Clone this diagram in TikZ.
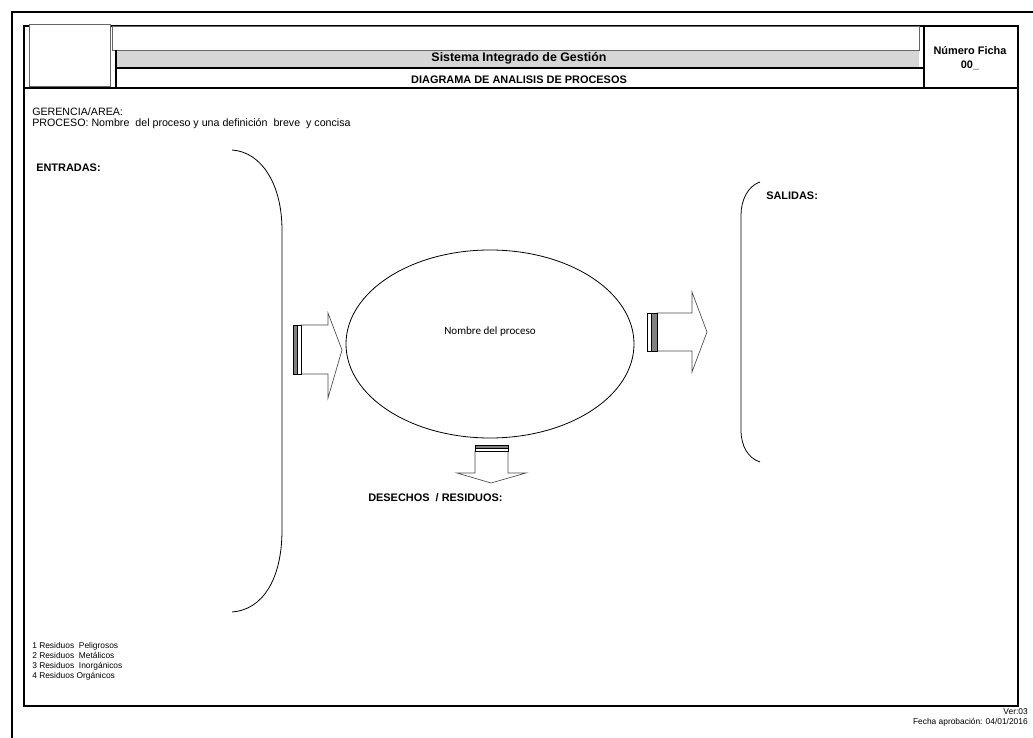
\documentclass[tikz,border=0pt]{standalone}
\usepackage{fontspec}
\setmainfont{Liberation Sans}
\newfontfamily\calibrifont{Carlito}
\usetikzlibrary{shapes.geometric}
\begin{document}
\begin{tikzpicture}[x=0.75pt,y=-0.75pt,
  frame/.style={draw=black,line width=1.1pt},
  thinbox/.style={draw=black!60,line width=0.6pt},
  bracket/.style={draw=black,line width=0.6pt},
  fat/.style={draw=black!70,line width=0.5pt,fill=white},
  bar/.style={draw=black,line width=0.4pt,fill=black!50},
  barlight/.style={draw=black,line width=0.4pt,fill=white},
  txt/.style={inner sep=0pt,font=\fontsize{8}{9}\selectfont},
  btxt/.style={inner sep=0pt,font=\fontsize{8.2}{9}\selectfont\bfseries},
  small/.style={inner sep=0pt,font=\fontsize{6.3}{7}\selectfont}]
\useasboundingbox (0,0) rectangle (1033,738);
\clip (0,0) rectangle (1033,738);
\fill[white] (0,0) rectangle (1033,738);

% outer sheet border, running off the page right and bottom
\draw[frame] (12,745) -- (12,12) -- (1045,12);
% inner frame
\draw[frame] (24,26) rectangle (1018,706);

% header
\fill[black!16] (116,50) rectangle (919,68);
\draw[thinbox] (112,50) -- (112,26) -- (919,26) -- (919,50) -- (112,50);
\draw[frame] (116,50) -- (116,88);
\draw[frame] (116,68) -- (924,68);
\draw[frame] (924,26) -- (924,88);
\draw[frame] (24,88) -- (1018,88);
\draw[thinbox,fill=white] (29,24) rectangle (110,86);

\node[inner sep=0pt,font=\fontsize{9.3}{10}\selectfont\bfseries,anchor=base] (sig) at (519,62) {Sistema Integrado de Gestión};
\node[btxt,anchor=base] (dap) at (519,84) {DIAGRAMA DE ANALISIS DE PROCESOS};
\node[btxt,anchor=base] (nf) at (970,55) {Número Ficha};
\node[btxt,anchor=base] (nfn) at (970,69) {00\_};

\node[txt,anchor=base west] (ger) at (32,116) {GERENCIA/AREA:};
\node[txt,anchor=base west] (proc) at (32,127) {PROCESO: Nombre\ \ del proceso y una definición\ \ breve\ \ y concisa};

\node[btxt,anchor=base west] (ent) at (36,172) {ENTRADAS:};
\node[btxt,anchor=base west] (sal) at (766,200) {SALIDAS:};

% input and output brackets
\draw[bracket] (232,150) .. controls (262,152) and (282,185) .. (282,230)
  -- (282,530) .. controls (282,580) and (262,610) .. (232,612);
\draw[bracket] (760,182) .. controls (748,186) and (741,200) .. (741,215)
  -- (741,430) .. controls (741,446) and (748,458) .. (760,462);

% process
\node[draw=black,line width=0.6pt,ellipse,minimum width=288*0.75pt,minimum height=188*0.75pt,inner sep=0pt] (proceso) at (490,344) {};
\node[inner sep=0pt,font=\calibrifont\fontsize{8.3}{9}\selectfont] (pname) at (490,332) {Nombre del proceso};

% input arrow
\draw[fat] (301,325) -- (328,325) -- (328,313) -- (342,350) -- (328,398) -- (328,374) -- (301,374) -- cycle;
\draw[bar] (293,325) rectangle (297.5,374);
\draw[barlight] (297.5,325) rectangle (301,374);
% output arrow
\draw[fat] (657,313) -- (692,313) -- (692,292) -- (707,332) -- (692,372) -- (692,351) -- (657,351) -- cycle;
\draw[barlight] (647,313) rectangle (651,351);
\draw[bar] (651,313) rectangle (657,351);
% waste arrow
\draw[fat] (475,451) -- (508,451) -- (508,473) -- (526,473) -- (491,483) -- (457,473) -- (475,473) -- cycle;
\draw[bar] (475,445) rectangle (508,448.5);
\draw[barlight] (475,448.5) rectangle (508,451);

\node[btxt,anchor=base west] (des) at (368,501) {DESECHOS\ \ / RESIDUOS:};

\node[small,anchor=base west] (r1) at (32,648) {1 Residuos\ \ Peligrosos};
\node[small,anchor=base west] (r2) at (32,658) {2 Residuos\ \ Metálicos};
\node[small,anchor=base west] (r3) at (32,668) {3 Residuos\ \ Inorgánicos};
\node[small,anchor=base west] (r4) at (32,678) {4 Residuos Orgánicos};

\node[small,anchor=base east] (ver) at (1028,714) {Ver:03};
\node[small,anchor=base east] (fecha) at (1028,724) {Fecha aprobación: 04/01/2016};
\end{tikzpicture}
\end{document}
